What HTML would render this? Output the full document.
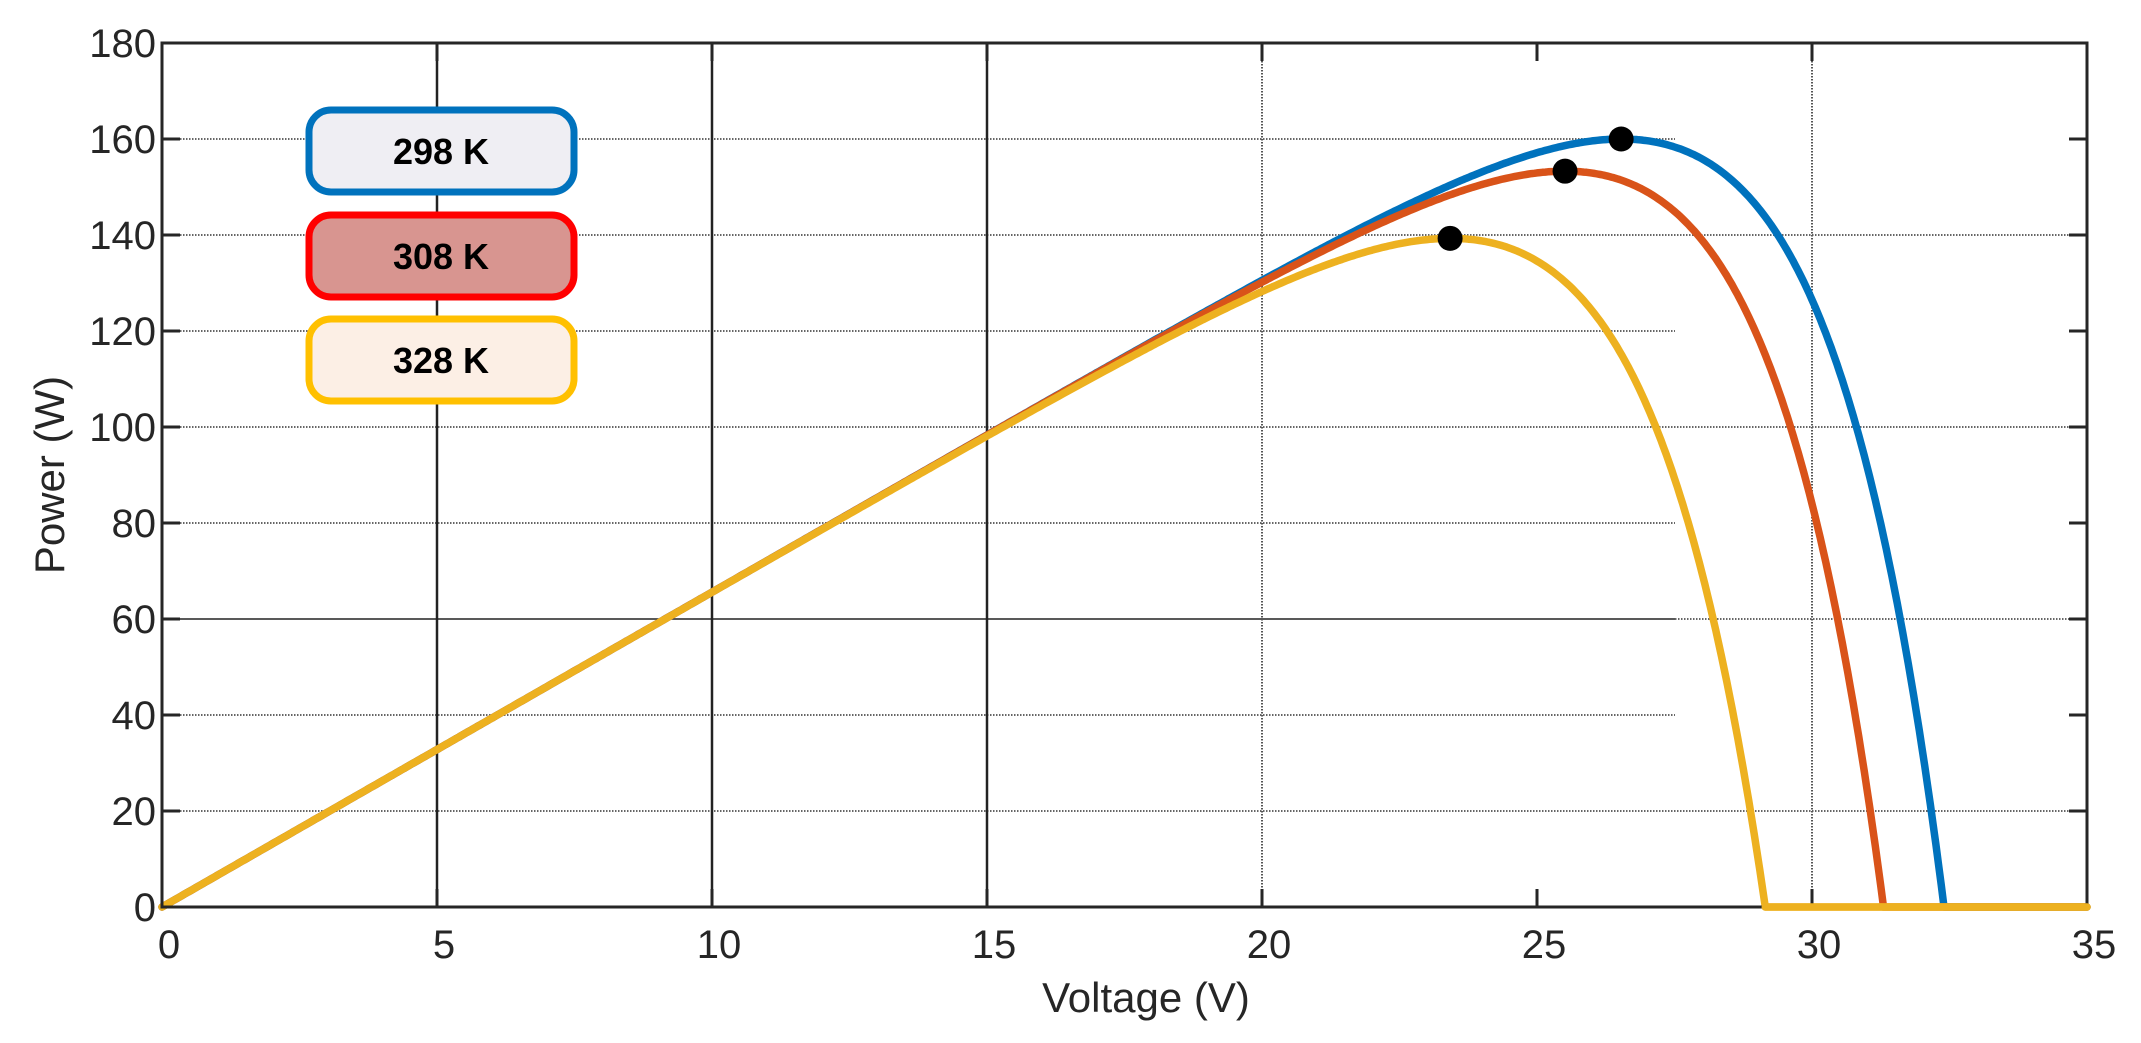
<!DOCTYPE html>
<html><head><meta charset="utf-8">
<style>
html,body{margin:0;padding:0;background:#fff;}
svg{display:block;}
text{font-family:"Liberation Sans",sans-serif;fill:#262626;}
</style></head>
<body>
<svg id="s" width="2141" height="1043" viewBox="0 0 2141 1043" xmlns="http://www.w3.org/2000/svg">
<rect width="2141" height="1043" fill="#fff"/>
<g id="grid"></g>
<g id="curves"></g>
<g id="axes"></g>
<rect x="309" y="110" width="265" height="82" rx="22" fill="#efeef3" stroke="#0072BD" stroke-width="7"/>
<text x="441" y="164" font-size="36" font-weight="bold" text-anchor="middle" style="fill:#000">298 K</text>
<rect x="309" y="215" width="265" height="82" rx="22" fill="#d89590" stroke="#ff0000" stroke-width="7"/>
<text x="441" y="269" font-size="36" font-weight="bold" text-anchor="middle" style="fill:#000">308 K</text>
<rect x="309" y="319" width="265" height="82" rx="22" fill="#fcefe5" stroke="#ffc000" stroke-width="7"/>
<text x="441" y="373" font-size="36" font-weight="bold" text-anchor="middle" style="fill:#000">328 K</text>
<g id="labels">
<text x="1146" y="1012" font-size="42" text-anchor="middle">Voltage (V)</text>
<text transform="translate(64,475) rotate(-90)" font-size="42" text-anchor="middle">Power (W)</text>
<text x="156" y="921" font-size="40" text-anchor="end">0</text>
<text x="156" y="825" font-size="40" text-anchor="end">20</text>
<text x="156" y="729" font-size="40" text-anchor="end">40</text>
<text x="156" y="633" font-size="40" text-anchor="end">60</text>
<text x="156" y="537" font-size="40" text-anchor="end">80</text>
<text x="156" y="441" font-size="40" text-anchor="end">100</text>
<text x="156" y="345" font-size="40" text-anchor="end">120</text>
<text x="156" y="249" font-size="40" text-anchor="end">140</text>
<text x="156" y="153" font-size="40" text-anchor="end">160</text>
<text x="156" y="57" font-size="40" text-anchor="end">180</text>
<text x="169" y="958" font-size="40" text-anchor="middle">0</text>
<text x="444" y="958" font-size="40" text-anchor="middle">5</text>
<text x="719" y="958" font-size="40" text-anchor="middle">10</text>
<text x="994" y="958" font-size="40" text-anchor="middle">15</text>
<text x="1269" y="958" font-size="40" text-anchor="middle">20</text>
<text x="1544" y="958" font-size="40" text-anchor="middle">25</text>
<text x="1819" y="958" font-size="40" text-anchor="middle">30</text>
<text x="2094" y="958" font-size="40" text-anchor="middle">35</text>
</g>
</svg>
<script>
(function(){
var NS="http://www.w3.org/2000/svg";
var X0=162,XS=275,Y0=907,YS=(907-43)/180;
function px(v){return X0+v*XS/5;}
function py(p){return Y0-p*YS;}
function el(g,tag,a){var e=document.createElementNS(NS,tag);for(var k in a)e.setAttribute(k,a[k]);document.getElementById(g).appendChild(e);return e;}
function hl(p,x1,x2,solid){var a={x1:x1,x2:x2,y1:py(p),y2:py(p),stroke:solid?"#222":"#666","stroke-width":solid?1.5:2};if(!solid)a["stroke-dasharray"]="1.5 1.5";el("grid","line",a);}
[160,120,80,40].forEach(function(p){hl(p,X0,1675);});
hl(60,X0,1675,true);
[140,100,20].forEach(function(p){hl(p,X0,2087);});
hl(60,1675,2087);
function vl(v,solid){var a={x1:px(v),x2:px(v),y1:43,y2:907,stroke:solid?"#222":"#555","stroke-width":solid?2.5:2};if(!solid)a["stroke-dasharray"]="1.5 1.5";el("grid","line",a);}
vl(5,true);vl(10,true);vl(15,true);vl(20);vl(30);
var Isc=6.56;
function maxP(a,Voc){var I0=Isc/(Math.exp(Voc/a)-1),best=0,bv=0;for(var v=0;v<=Voc;v+=0.01){var p=v*(Isc-I0*(Math.exp(v/a)-1));if(p>best){best=p;bv=v;}}return [best,bv,I0];}
function fit(Voc,Pm){var lo=0.3,hi=8;for(var i=0;i<40;i++){var m=(lo+hi)/2;if(maxP(m,Voc)[0]>Pm)lo=m;else hi=m;}return (lo+hi)/2;}
var series=[{voc:32.4,pm:160,c:"#0072BD"},{voc:31.3,pm:153.3,c:"#D95319"},{voc:29.15,pm:139.3,c:"#EDB120"}];
var dots=[];
series.forEach(function(s){
 var a=fit(s.voc,s.pm),r=maxP(a,s.voc),I0=r[2];
 var d="M"+px(0)+" "+py(0);
 for(var v=0.05;v<s.voc;v+=0.05){var p=v*(Isc-I0*(Math.exp(v/a)-1));d+=" L"+px(v).toFixed(1)+" "+py(p).toFixed(1);}
 d+=" L"+px(s.voc).toFixed(1)+" "+py(0)+" L"+px(35)+" "+py(0);
 el("curves","path",{d:d,fill:"none",stroke:s.c,"stroke-width":7.5,"stroke-linejoin":"round","stroke-linecap":"round"});
 dots.push([px(r[1]),py(r[0])]);
});
dots.forEach(function(d){el("curves","circle",{cx:d[0],cy:d[1],r:12.5,fill:"#000"});});
el("axes","rect",{x:X0,y:43,width:2087-X0,height:907-43,fill:"none",stroke:"#262626","stroke-width":3});
for(var p=0;p<=180;p+=20){el("axes","line",{x1:X0,x2:X0+18,y1:py(p),y2:py(p),stroke:"#262626","stroke-width":3});el("axes","line",{x1:2087,x2:2069,y1:py(p),y2:py(p),stroke:"#262626","stroke-width":3});}
for(var v=0;v<=35;v+=5){el("axes","line",{x1:px(v),x2:px(v),y1:907,y2:889,stroke:"#262626","stroke-width":3});el("axes","line",{x1:px(v),x2:px(v),y1:43,y2:61,stroke:"#262626","stroke-width":3});}
el("axes","path",{d:"M"+px(29.15)+" "+py(0)+" L"+px(35)+" "+py(0),stroke:"#EDB120","stroke-width":7.5,"stroke-linecap":"round",fill:"none"});
})();
</script>
</body></html>
